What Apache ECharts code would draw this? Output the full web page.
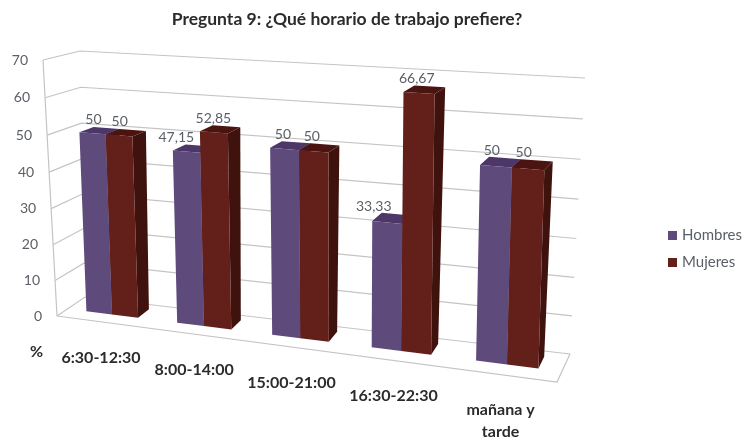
<!DOCTYPE html>
<html>
<head>
<meta charset="utf-8">
<title>Pregunta 9</title>
<script src="https://cdn.jsdelivr.net/npm/echarts@6/dist/echarts.min.js"></script>
<style>
    html, body { margin: 0; padding: 0; background: #fff; }
    #chart { width: 746px; height: 440px; filter: blur(0.5px); }
</style>
</head>
<body>
<div id="chart"></div>
<script>
// Chart data
const categories = ['6:30-12:30', '8:00-14:00', '15:00-21:00', '16:30-22:30', 'mañana y\ntarde'];
const hombres = [50, 47.15, 50, 33.33, 50];
const mujeres = [50, 52.85, 50, 66.67, 50];
const hombresLabels = ['50', '47,15', '50', '33,33', '50'];
const mujeresLabels = ['50', '52,85', '50', '66,67', '50'];
const yTicks = [0, 10, 20, 30, 40, 50, 60, 70];

// Corners of the drawn box: bottom left, bottom right, top right, top left
const frontQuad = [[57, 316], [557, 382], [563, 96], [43, 60]];
const backQuad = [[85, 297], [570, 354], [585, 78], [80, 51]];

const purple = { front: '#5e4a7b', side: '#43315c', top: '#4c3768' };
const maroon = { front: '#63201a', side: '#3f120d', top: '#4a1511' };
const gridColor = '#c4c4c4';
const valueColor = '#5a5f66';
const darkColor = '#2b2b2b';
const labelFont = 'Lato, sans-serif';

const depthA = 0.38, depthB = 0.8;

// Unit square to quad homography
function makeWarp(q) {
    const [x0, y0] = q[0], [x1, y1] = q[1], [x2, y2] = q[2], [x3, y3] = q[3];
    const dx1 = x1 - x2, dx2 = x3 - x2, sx = x0 - x1 + x2 - x3;
    const dy1 = y1 - y2, dy2 = y3 - y2, sy = y0 - y1 + y2 - y3;
    const den = dx1 * dy2 - dx2 * dy1;
    const g = (sx * dy2 - dx2 * sy) / den;
    const h = (dx1 * sy - sx * dy1) / den;
    const a = x1 - x0 + g * x1, b = x3 - x0 + h * x3;
    const d = y1 - y0 + g * y1, e = y3 - y0 + h * y3;
    return (u, v) => {
        const w = g * u + h * v + 1;
        return [(a * u + b * v + x0) / w, (d * u + e * v + y0) / w];
    };
}
const warpFront = makeWarp(frontQuad);
const warpBack = makeWarp(backQuad);

// u across, v up, depth 0 at the front and 1 at the back wall
function project(u, v, depth) {
    const f = warpFront(u, v), b = warpBack(u, v);
    return [f[0] + (b[0] - f[0]) * depth, f[1] + (b[1] - f[1]) * depth];
}

// Go from the flat grid the axes give us to unit coordinates
function toUnit(params, pt) {
    const r = params.coordSys;
    return [(pt[0] - r.x) / r.width, (r.y + r.height - pt[1]) / r.height];
}

// Left edge, right edge and height of one bar in unit coordinates
function barBox(params, api, offset) {
    const idx = api.value(0);
    const base = toUnit(params, api.coord([idx, 0]));
    const top = toUnit(params, api.coord([idx, api.value(1)]));
    const barW = api.size([1, 0])[0] / params.coordSys.width * 0.2875;
    const u0 = base[0] + offset * barW;
    return { u0: u0, u1: u0 + barW, v1: top[1] };
}

function wallRenderer(params, api) {
    const v = toUnit(params, api.coord([0, api.value(0)]))[1];
    const a = project(0, v, 0), b = project(0, v, 1), c = project(1, v, 1);
    const children = [{
        type: 'polyline',
        shape: { points: [a, b, c] },
        style: { stroke: gridColor, lineWidth: 1.2, fill: null }
    }, {
        type: 'text',
        style: {
            x: a[0] - 15, y: a[1], text: String(api.value(0)),
            fill: valueColor, font: '14px ' + labelFont, align: 'right', verticalAlign: 'middle'
        }
    }];
    // Box edges only need drawing once
    if (params.dataIndex === 0) {
        children.push({
            type: 'polyline',
            shape: { points: [project(0, 0, 0), project(1, 0, 0), project(1, 0, 1)] },
            style: { stroke: gridColor, lineWidth: 1.2, fill: null }
        }, {
            type: 'polyline',
            shape: { points: [project(0, 0, 0), project(0, 1, 0)] },
            style: { stroke: gridColor, lineWidth: 1.2, fill: null }
        });
    }
    return { type: 'group', children: children };
}

function categoryLabelRenderer(params, api) {
    const u = toUnit(params, api.coord([api.value(0), 0]))[0];
    const p = project(u, 0, 0);
    const text = categories[api.value(0)];
    const lines = text.split('\n').length;
    return {
        type: 'text',
        style: {
            x: p[0] - 1, y: p[1] + 35.5 + (lines - 1) * 11, text: text,
            fill: darkColor, font: 'bold 16px ' + labelFont,
            lineHeight: 22, align: 'center', verticalAlign: 'middle'
        }
    };
}

function barRenderer(colors, offset) {
    return function(params, api) {
        const { u0, u1, v1 } = barBox(params, api, offset);
        const front = [project(u0, 0, depthA), project(u1, 0, depthA), project(u1, v1, depthA), project(u0, v1, depthA)];
        const side = [project(u1, 0, depthA), project(u1, 0, depthB), project(u1, v1, depthB), project(u1, v1, depthA)];
        const cap = [project(u0, v1, depthA), project(u1, v1, depthA), project(u1, v1, depthB), project(u0, v1, depthB)];
        return {
            type: 'group',
            children: [
                { type: 'polygon', shape: { points: side }, style: { fill: colors.side } },
                { type: 'polygon', shape: { points: cap }, style: { fill: colors.top } },
                { type: 'polygon', shape: { points: front }, style: { fill: colors.front } }
            ]
        };
    };
}

function valueLabelRenderer(texts, offset, labelDx, align) {
    return function(params, api) {
        const { u0, u1, v1 } = barBox(params, api, offset);
        const p = project((u0 + u1) / 2, v1, depthB);
        return {
            type: 'text',
            style: {
                x: p[0] + labelDx, y: p[1] - 8, text: texts[api.value(0)],
                fill: valueColor, font: '14px ' + labelFont, align: align, verticalAlign: 'middle'
            }
        };
    };
}

const chart = echarts.init(document.getElementById('chart'));

const baseSeries = { type: 'custom', coordinateSystem: 'cartesian2d', clip: false };

chart.setOption({
    animation: false,
    backgroundColor: '#fff',
    title: {
        text: 'Pregunta 9: ¿Qué horario de trabajo prefiere?',
        left: 342, top: 5, textAlign: 'center',
        textStyle: { fontFamily: labelFont, fontSize: 17.5, fontWeight: 'bold', color: darkColor }
    },
    legend: {
        orient: 'vertical',
        left: 663, top: 223,
        itemWidth: 9, itemHeight: 9, itemGap: 12,
        icon: 'rect',
        data: ['Hombres', 'Mujeres'],
        textStyle: { fontFamily: labelFont, fontSize: 15, color: valueColor }
    },
    grid: { left: 50, right: 190, top: 60, bottom: 120 },
    xAxis: { type: 'category', data: categories, show: false },
    yAxis: { type: 'value', min: 0, max: 70, interval: 10, show: false },
    graphic: [{
        type: 'text', left: 30, top: 344,
        style: { text: '%', fill: darkColor, font: 'bold 16px ' + labelFont }
    }],
    series: [
        Object.assign({}, baseSeries, {
            name: 'walls', z: 1, silent: true,
            data: yTicks.map(t => [t]),
            encode: { y: 0 },
            renderItem: wallRenderer
        }),
        Object.assign({}, baseSeries, {
            name: 'categoryLabels', z: 1, silent: true,
            data: categories.map((c, i) => [i]),
            encode: { x: 0 },
            renderItem: categoryLabelRenderer
        }),
        Object.assign({}, baseSeries, {
            name: 'Hombres', z: 2,
            itemStyle: { color: purple.front },
            data: hombres.map((v, i) => [i, v]),
            encode: { x: 0, y: 1 },
            renderItem: barRenderer(purple, -1)
        }),
        Object.assign({}, baseSeries, {
            name: 'Mujeres', z: 3,
            itemStyle: { color: maroon.front },
            data: mujeres.map((v, i) => [i, v]),
            encode: { x: 0, y: 1 },
            renderItem: barRenderer(maroon, 0)
        }),
        Object.assign({}, baseSeries, {
            name: 'hombresValues', z: 4, silent: true,
            data: hombres.map((v, i) => [i, v]),
            encode: { x: 0, y: 1 },
            renderItem: valueLabelRenderer(hombresLabels, -1, -5, 'right')
        }),
        Object.assign({}, baseSeries, {
            name: 'mujeresValues', z: 4, silent: true,
            data: mujeres.map((v, i) => [i, v]),
            encode: { x: 0, y: 1 },
            renderItem: valueLabelRenderer(mujeresLabels, 0, -13, 'center')
        })
    ]
});
</script>
</body>
</html>
